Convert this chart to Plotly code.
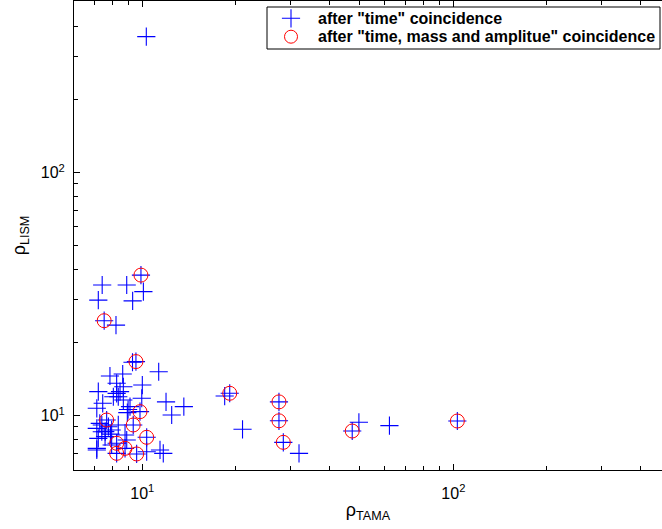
import plotly.graph_objects as go

# after "time" coincidence (blue crosses)
tama_time = [10.3, 9.9, 7.43, 8.91, 10.08, 7.22, 9.31, 7.54, 8.23,
             9.54, 9.3, 7.87, 8.65, 11.29, 10.0, 8.27, 8.69, 7.22, 8.27, 8.48,
             8.37, 8.07, 8.69, 9.96, 11.92, 13.6, 12.43, 7.46, 7.14, 9.13, 8.95, 9.0,
             18.4, 19.1, 21.0, 27.5, 27.5, 28.4, 31.9, 47.3, 49.7, 62.3, 103.0,
             9.83, 7.68, 9.35, 10.33, 8.27, 8.8, 8.27, 9.59, 7.14, 7.41, 7.78,
             7.97, 7.59, 7.22, 7.14, 8.8, 8.91, 10.33, 11.4, 11.68, 7.97, 7.41,
             8.37, 7.3, 7.6, 7.9, 7.14]
lism_time = [363.0, 37.9, 34.5, 34.5, 32.4, 29.9, 29.7, 24.6, 23.6,
             16.7, 16.6, 14.57, 14.85, 15.17, 13.37, 13.6, 13.15, 12.56, 12.36, 12.56,
             11.97, 11.97, 11.6, 11.8, 11.4, 10.9, 10.07, 11.25, 10.73, 10.9, 10.3, 10.6,
             12.05, 12.37, 8.79, 11.4, 9.53, 7.77, 7.0, 8.65, 9.4, 9.1, 9.51,
             10.39, 9.6, 9.16, 8.15, 7.7, 7.34, 7.0, 6.96, 8.87, 8.59, 9.01,
             8.73, 8.2, 8.07, 7.34, 8.33, 7.94, 7.11, 7.23, 7.0, 7.58, 9.16,
             9.16, 9.3, 8.6, 8.4, 7.23]

# after "time, mass and amplitue" coincidence (red circles)
tama_tma = [9.9, 7.54, 9.54, 19.1, 27.5, 27.5, 28.4, 47.3, 103.0,
            9.83, 7.68, 9.35, 10.33, 8.27, 8.8, 8.27, 9.59]
lism_tma = [37.9, 24.6, 16.7, 12.37, 11.4, 9.53, 7.77, 8.65, 9.51,
            10.39, 9.6, 9.16, 8.15, 7.7, 7.34, 7.0, 6.96]

series_names = ['after "time" coincidence',
                'after "time, mass and amplitue" coincidence']

major_vals = [10, 100]
major_text = ["10<sup>1</sup>", "10<sup>2</sup>"]
minor_vals = [6, 7, 8, 9, 20, 30, 40, 50, 60, 70, 80, 90, 200, 300, 400]

BLUE = "#0000ff"
RED = "#ff0000"
cross_marker = dict(symbol="cross-thin", size=13, color=BLUE, line=dict(color=BLUE, width=1.1))
circle_marker = dict(symbol="circle-open", size=14, color=RED, line=dict(color=RED, width=1))

fig = go.Figure()
fig.add_trace(go.Scatter(x=tama_time, y=lism_time, mode="markers",
                         name=series_names[0], marker=cross_marker, showlegend=False))
fig.add_trace(go.Scatter(x=tama_tma, y=lism_tma, mode="markers",
                         name=series_names[1], marker=circle_marker, showlegend=False))

# ---- legend drawn in plot-area fraction coordinates ----
L, R, T, B = 74, 662, 1, 470          # plot area in pixels
W, H = R - L, B - T
def fx(px): return (px - L) / W
def fy(py): return (B - py) / H

row_y = [fy(18.3), fy(36.7)]
fig.add_shape(type="rect", xref="paper", yref="paper",
              x0=fx(267), x1=fx(660), y0=fy(49), y1=fy(7),
              line=dict(color="black", width=1), fillcolor="white", layer="below")
fig.add_trace(go.Scatter(x=[fx(291)], y=[row_y[0]], xaxis="x2", yaxis="y2", mode="markers",
                         marker=dict(cross_marker, size=13), showlegend=False,
                         hoverinfo="skip", name=series_names[0]))
fig.add_trace(go.Scatter(x=[fx(291)], y=[row_y[1]], xaxis="x2", yaxis="y2", mode="markers",
                         marker=dict(circle_marker, size=13), showlegend=False,
                         hoverinfo="skip", name=series_names[1]))
for name, yy in zip(series_names, row_y):
    fig.add_annotation(xref="paper", yref="paper", x=fx(316), y=yy,
                       xanchor="left", yanchor="middle", showarrow=False,
                       text="<b>" + name + "</b>",
                       font=dict(family="Liberation Sans, Arial", size=16, color="black"))

axis_common = dict(
    type="log", showgrid=False, zeroline=False, automargin=False,
    showline=True, linecolor="black", linewidth=1,
    ticks="inside", ticklen=6, tickcolor="black",
    tickmode="array", tickvals=major_vals, ticktext=major_text,
    tickfont=dict(family="Liberation Sans, Arial", size=16, color="black"),
    minor=dict(ticks="inside", ticklen=4, tickcolor="black",
               tickmode="array", tickvals=minor_vals, showgrid=False),
)

fig.update_layout(
    width=662, height=529,
    margin=dict(l=L, r=662 - R, t=T, b=529 - B, autoexpand=False),
    paper_bgcolor="white", plot_bgcolor="white",
    font=dict(family="Liberation Sans, Arial", color="black"),
    xaxis=dict(axis_common, range=[0.7804, 2.6708], mirror="ticks", ticklabelstandoff=9,
               title=dict(text="ρ<sub>TAMA</sub>", font=dict(size=18), standoff=2)),
    yaxis=dict(axis_common, range=[0.7766, 2.7066], ticklabelstandoff=5,
               title=dict(text="ρ<sub>LISM</sub>", font=dict(size=18), standoff=10)),
    xaxis2=dict(range=[0, 1], overlaying="x", visible=False),
    yaxis2=dict(range=[0, 1], overlaying="y", visible=False),
    showlegend=False,
)

fig.write_html("out.html", config={"displayModeBar": False},
               post_script="document.body.style.margin='0';document.body.style.overflow='hidden';")
